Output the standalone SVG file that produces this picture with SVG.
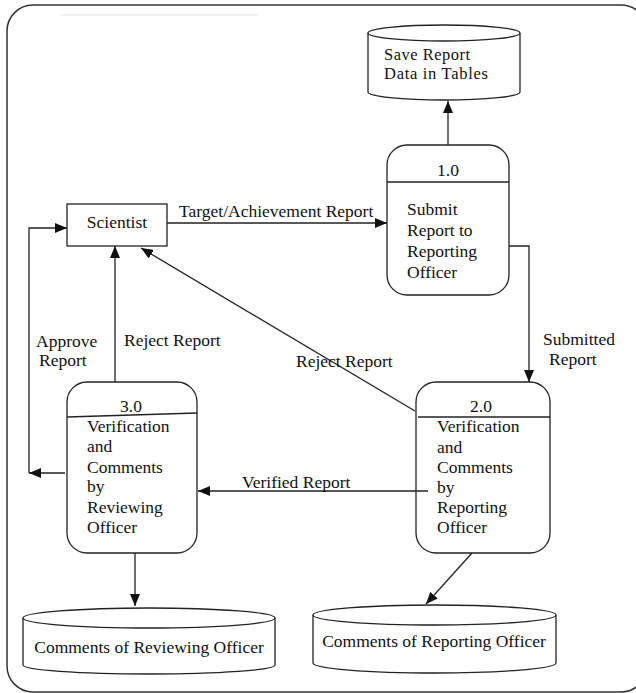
<svg xmlns="http://www.w3.org/2000/svg" width="636" height="693" viewBox="0 0 636 693">
<style>
text{font-family:"Liberation Serif","Times New Roman",serif;font-size:17.5px;fill:#111}
.s{fill:#fff;stroke:#222;stroke-width:1.3}
.c{fill:none;stroke:#222;stroke-width:1.3}
.m{text-anchor:middle}
.t{font-size:16.5px}
</style>
<defs>
<marker id="a" viewBox="0 0 12 10" refX="12" refY="5" markerWidth="12" markerHeight="10" markerUnits="userSpaceOnUse" orient="auto">
<path d="M0,0 L12,5 L0,10 z" fill="#111"/>
</marker>
</defs>
<rect x="0" y="0" width="636" height="693" fill="#fff"/>
<rect x="7" y="5" width="640" height="687" rx="26" ry="26" fill="none" stroke="#333" stroke-width="1.5"/>
<rect x="60" y="14" width="198" height="2" fill="#f0f0f0"/>

<g id="store-save">
<path class="s" d="M368,33 L368,92 A76,8 0 0 0 520,92 L520,33"/>
<ellipse class="s" cx="444" cy="33" rx="76" ry="8"/>
<text class="t" x="384" y="60" textLength="86">Save Report</text>
<text class="t" x="384" y="79" textLength="104">Data in Tables</text>
</g>

<g id="scientist">
<rect class="s" x="67" y="204" width="100" height="42"/>
<text class="m" x="117" y="228">Scientist</text>
</g>

<g id="p1">
<rect class="s" x="387" y="145" width="122" height="150" rx="20" ry="20"/>
<line class="c" x1="387" y1="182" x2="509" y2="182"/>
<text class="m" x="448" y="176">1.0</text>
<text x="407" y="215">Submit</text>
<text x="407" y="236">Report to</text>
<text x="407" y="257">Reporting</text>
<text x="407" y="278">Officer</text>
</g>

<g id="p2">
<rect class="s" x="416" y="382" width="134" height="171" rx="20" ry="20"/>
<line class="c" x1="418" y1="417" x2="550" y2="417"/>
<text class="m" x="481" y="412">2.0</text>
<text x="437" y="432">Verification</text>
<text x="437" y="453">and</text>
<text x="437" y="473">Comments</text>
<text x="437" y="493">by</text>
<text x="437" y="513">Reporting</text>
<text x="437" y="533">Officer</text>
</g>

<g id="p3">
<rect class="s" x="67" y="382" width="130" height="171" rx="20" ry="20"/>
<line class="c" x1="67" y1="417" x2="197" y2="413"/>
<text class="m" x="131" y="412">3.0</text>
<text x="87" y="432">Verification</text>
<text x="87" y="452">and</text>
<text x="87" y="473">Comments</text>
<text x="87" y="492">by</text>
<text x="87" y="513">Reviewing</text>
<text x="87" y="533">Officer</text>
</g>

<g id="store-reviewing">
<path class="s" d="M23,618 L23,665 A126,9 0 0 0 275,665 L275,618"/>
<ellipse class="s" cx="149" cy="618" rx="126" ry="10"/>
<text class="m" x="149" y="653">Comments of Reviewing Officer</text>
</g>

<g id="store-reporting">
<path class="s" d="M313,615 L313,663 A121.5,10 0 0 0 556,663 L556,615"/>
<ellipse class="s" cx="434.5" cy="615" rx="121.5" ry="10"/>
<text class="m" x="434" y="647">Comments of Reporting Officer</text>
</g>

<g id="connectors">
<line class="c" x1="448" y1="145" x2="448" y2="101" marker-end="url(#a)"/>
<line class="c" x1="167" y1="223" x2="387" y2="223" marker-end="url(#a)"/>
<polyline class="c" points="509,246 529,246 529,382" marker-end="url(#a)"/>
<line class="c" x1="415" y1="411" x2="141" y2="248" marker-end="url(#a)"/>
<line class="c" x1="115" y1="382" x2="115" y2="246" marker-end="url(#a)"/>
<line class="c" x1="65" y1="473" x2="29" y2="473" marker-end="url(#a)"/>
<polyline class="c" points="29,473 29,228 67,228" marker-end="url(#a)"/>
<line class="c" x1="428" y1="491" x2="198" y2="491" marker-end="url(#a)"/>
<line class="c" x1="135" y1="553" x2="135" y2="606" marker-end="url(#a)"/>
<line class="c" x1="472" y1="553" x2="426" y2="604" marker-end="url(#a)"/>
<text x="179" y="217">Target/Achievement Report</text>
<text x="543" y="345">Submitted</text>
<text x="549" y="365">Report</text>
<text x="296" y="367">Reject Report</text>
<text x="124" y="346">Reject Report</text>
<text x="36" y="347">Approve</text>
<text x="39" y="366">Report</text>
<text x="242" y="488">Verified Report</text>
</g>
</svg>
